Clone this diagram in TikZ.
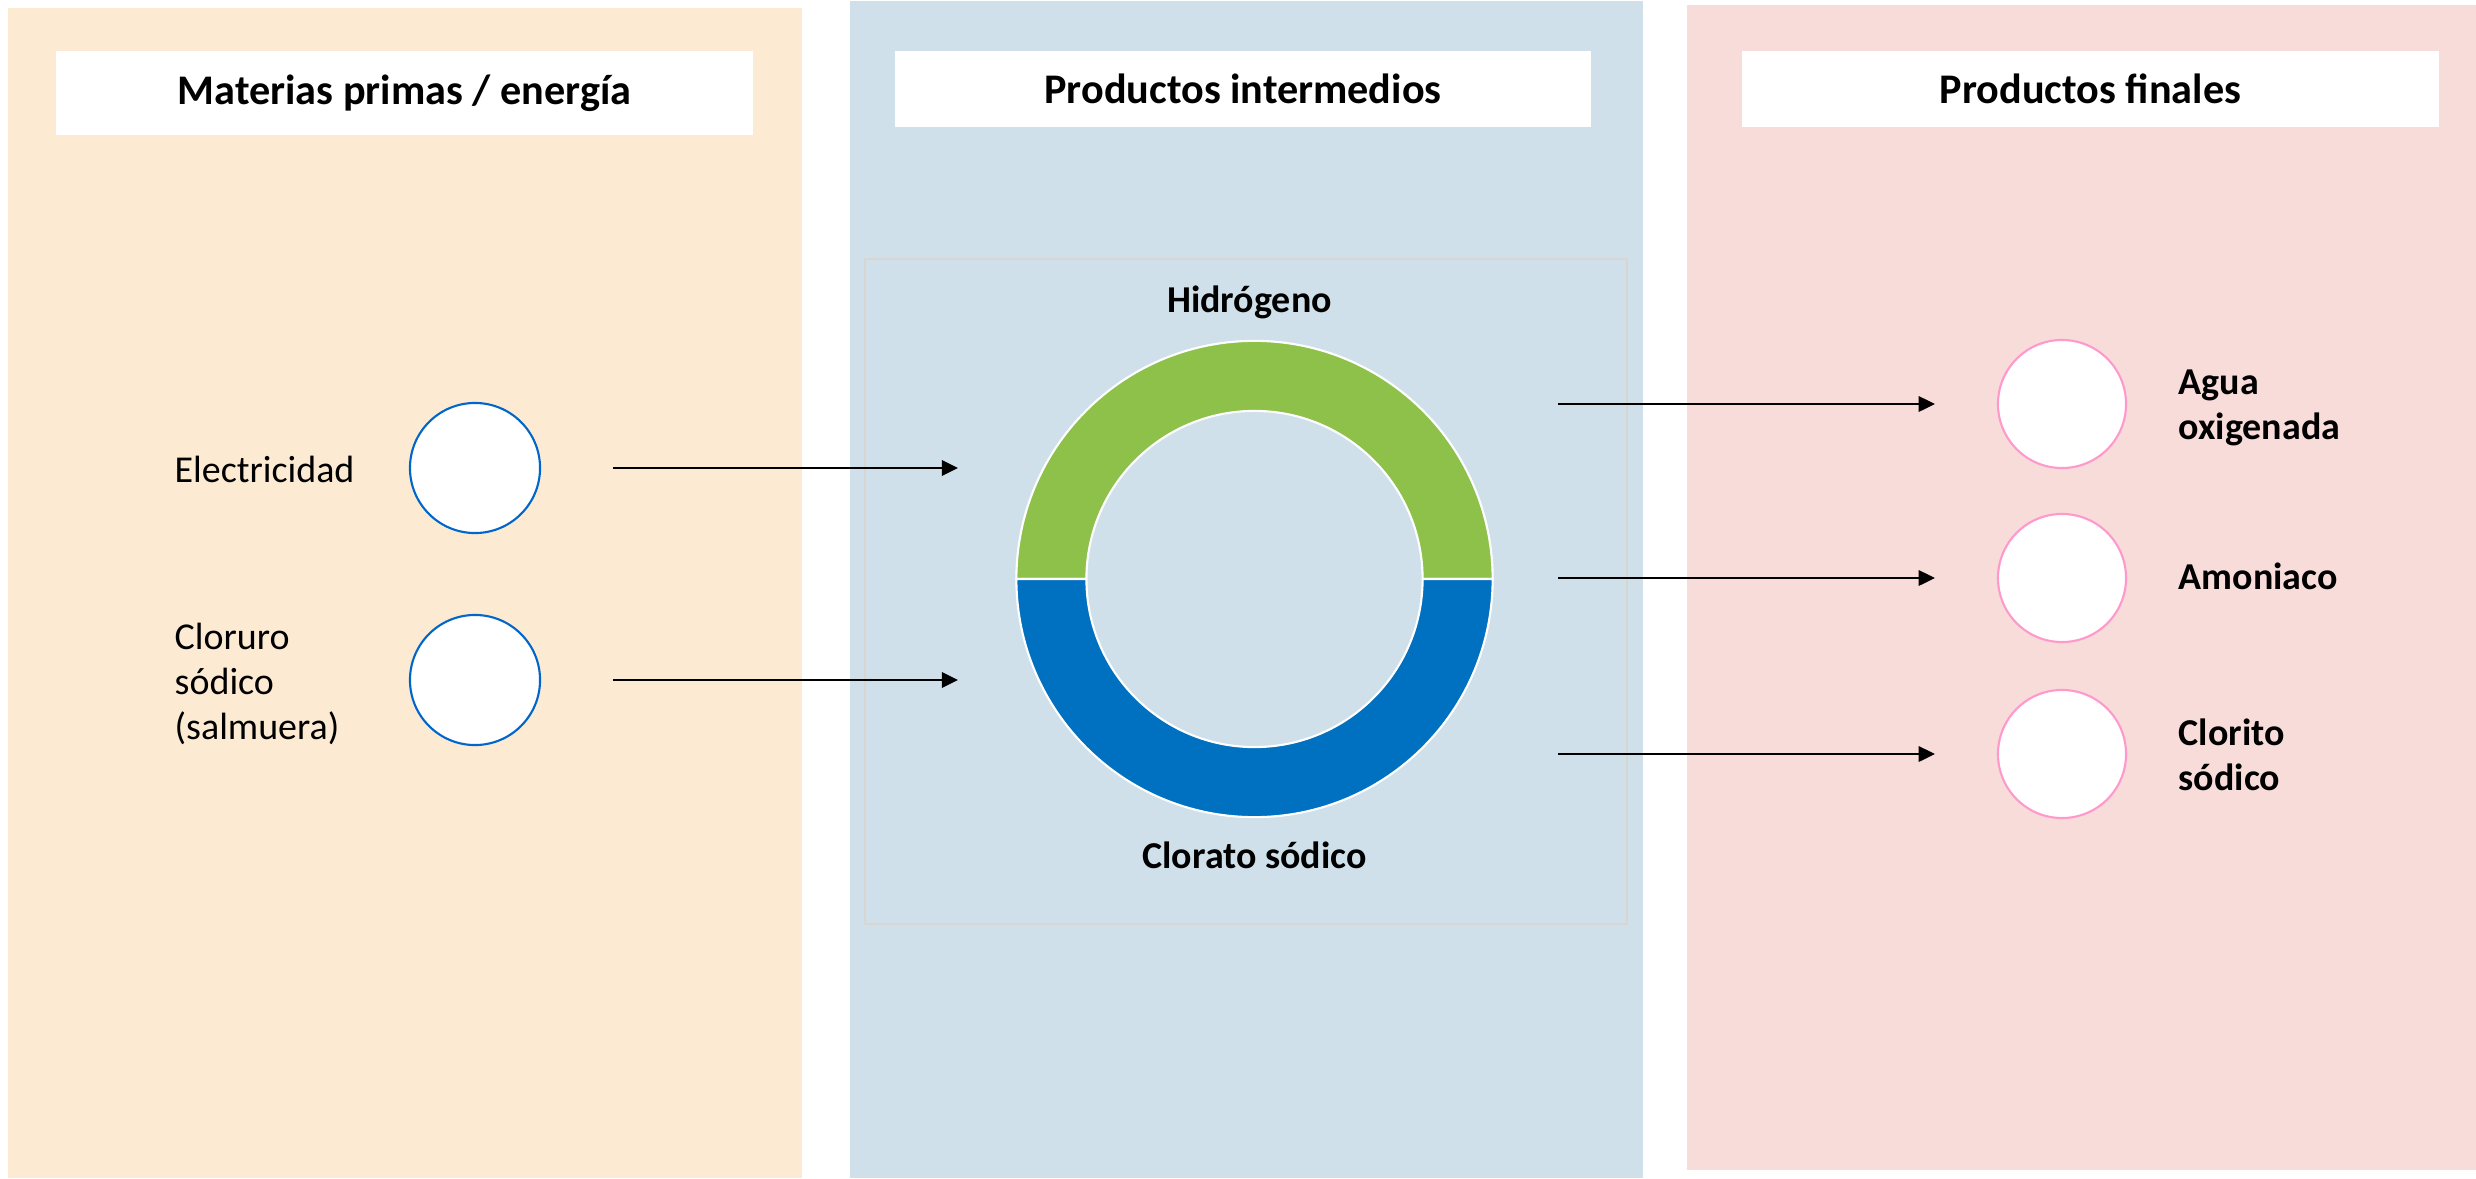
\documentclass[tikz,border=0pt]{standalone}
\usepackage{fontspec}
\setmainfont{Carlito}
\usepackage{tikz}
\usetikzlibrary{arrows.meta}
\usetikzlibrary{positioning}
\definecolor{panelorange}{RGB}{252,235,210}
\definecolor{panelblue}{RGB}{207,224,234}
\definecolor{panelpink}{RGB}{247,220,218}
\definecolor{ringgreen}{RGB}{141,193,74}
\definecolor{ringblue}{RGB}{0,112,192}
\definecolor{inedge}{RGB}{0,102,204}
\definecolor{outedge}{RGB}{255,153,204}
\definecolor{framegray}{RGB}{217,214,210}
\tikzset{header/.style = {fill=white, inner sep=0, minimum width=6.96cm, minimum height=0.76cm,
                          font=\fontsize{12}{14}\selectfont\bfseries}}
\tikzset{inring/.style = {circle, draw=inedge, fill=white, line width=0.6pt, inner sep=0, minimum size=1.3cm}}
\tikzset{outring/.style = {circle, draw=outedge, fill=white, line width=0.6pt, inner sep=0, minimum size=1.28cm}}
\tikzset{plaintext/.style = {inner sep=0, align=left, font=\fontsize{10.8}{12.7}\selectfont}}
\tikzset{boldtext/.style = {inner sep=0, align=left, font=\fontsize{10.8}{12.7}\selectfont\bfseries}}
\tikzset{flow/.style = {-{Triangle[length=4.6pt, width=4.4pt]}, line width=0.55pt}}

\begin{document}
\begin{tikzpicture}[x=0.01cm, y=-0.01cm]
    \useasboundingbox (0, 0) rectangle (2476, 1179);

    \fill [panelorange] (8, 8) rectangle (802, 1178);
    \fill [panelblue] (850, 1) rectangle (1643, 1178);
    \fill [panelpink] (1687, 5) rectangle (2476, 1170);
    \draw [framegray, line width=0.45pt] (865, 259) rectangle (1627, 924);

    \node [header, minimum height=0.84cm] (rawhead) at (404.5, 93) {Materias primas / energía};
    \node [header] (midhead) at (1243, 89) {Productos intermedios};
    \node [header] (finhead) at (2090.5, 89) {Productos finales};

    % anillo de productos intermedios
    \coordinate (ring) at (1254.5, 579);
    \filldraw [fill=ringgreen, draw=white, line width=0.6pt]
        ([xshift=-2.38cm]ring) arc [start angle=180, end angle=0, radius=2.38cm]
        -- ([xshift=1.68cm]ring) arc [start angle=0, end angle=180, radius=1.68cm] -- cycle;
    \filldraw [fill=ringblue, draw=white, line width=0.6pt]
        ([xshift=-2.38cm]ring) arc [start angle=180, end angle=360, radius=2.38cm]
        -- ([xshift=1.68cm]ring) arc [start angle=360, end angle=180, radius=1.68cm] -- cycle;
    \node [boldtext, anchor=base] (hydro) at (1249.5, 312) {Hidrógeno};
    \node [boldtext, anchor=base] (chlorate) at (1254.5, 868) {Clorato sódico};

    % materias primas
    \node [inring] (elec) at (475, 468) {};
    \node [inring] (brine) at (475, 680) {};
    \node [plaintext, anchor=base west] (electext) at (174, 482) {Electricidad};
    \node [plaintext, anchor=west] (brinetext) at (174, 684) {Cloruro\\sódico\\(salmuera)};

    % productos finales
    \node [outring] (peroxide) at (2062, 404) {};
    \node [outring] (ammonia) at (2062, 578) {};
    \node [outring] (chlorite) at (2062, 754) {};
    \node [boldtext, anchor=west] (peroxidetext) at (2178, 408) {Agua\\oxigenada};
    \node [boldtext, anchor=base west] (ammoniatext) at (2178, 589) {Amoniaco};
    \node [boldtext, anchor=west] (chloritetext) at (2178, 755) {Clorito\\sódico};

    \coordinate (ringin1) at (958, 468);
    \coordinate (ringin2) at (958, 680);
    \coordinate (ringout1) at (1558, 404);
    \coordinate (ringout2) at (1558, 578);
    \coordinate (ringout3) at (1558, 754);

    \draw [flow] ([xshift=0.72cm]elec.east) -- (ringin1);
    \draw [flow] ([xshift=0.72cm]brine.east) -- (ringin2);
    \draw [flow] (ringout1) -- ([xshift=-0.62cm]peroxide.west);
    \draw [flow] (ringout2) -- ([xshift=-0.62cm]ammonia.west);
    \draw [flow] (ringout3) -- ([xshift=-0.62cm]chlorite.west);
\end{tikzpicture}
\end{document}
